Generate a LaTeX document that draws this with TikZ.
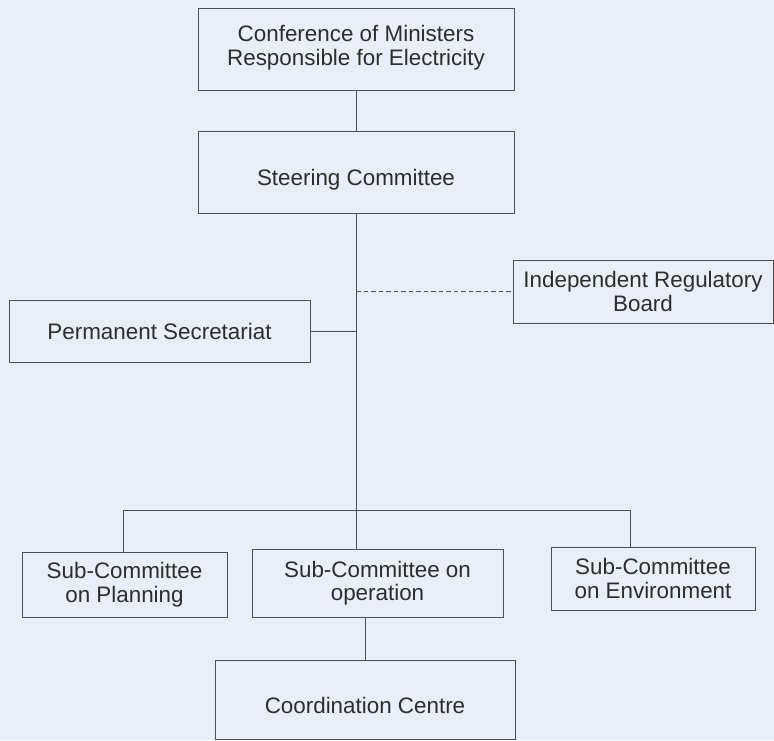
\documentclass[tikz,border=0pt]{standalone}
\usepackage{fontspec}
\setmainfont{Liberation Sans}
\definecolor{bgc}{RGB}{232,239,249}
\definecolor{linec}{RGB}{80,80,80}
\definecolor{txtc}{RGB}{45,45,45}
\newcommand\lowertext[1]{\raisebox{-8pt}[16pt][5pt]{#1}}
\begin{document}
\begin{tikzpicture}[x=1pt,y=-1pt,
  orgbox/.style={draw=linec, line width=0.9pt, rectangle, inner sep=0pt, align=center,
     text=txtc, font=\fontsize{22.4}{23.5}\selectfont},
  conn/.style={draw=linec, line width=0.9pt},
  dconn/.style={draw=linec, line width=0.9pt, dash pattern=on 4.5pt off 3pt}]
\fill[bgc] (0,0) rectangle (774,740);
\useasboundingbox (0,0) rectangle (774,740);

\node[orgbox, minimum width=316pt, minimum height=82pt] (conf) at (356,49)
  {Conference of Ministers\\Responsible for Electricity\\[-16pt]};
\node[orgbox, minimum width=316pt, minimum height=82pt] (steer) at (356,172)
  {\lowertext{Steering Committee}};
\node[orgbox, minimum width=260pt, minimum height=63pt] (irb) at (643,291.5)
  {Independent Regulatory\\Board};
\node[orgbox, minimum width=301pt, minimum height=62pt] (perm) at (159.5,331)
  {Permanent Secretariat};
\node[orgbox, minimum width=205pt, minimum height=65pt] (plan) at (124.5,584.5)
  {Sub-Committee\\on Planning};
\node[orgbox, minimum width=251pt, minimum height=68pt] (oper) at (377.5,583)
  {Sub-Committee on\\operation};
\node[orgbox, minimum width=204pt, minimum height=63pt] (env) at (653,578.5)
  {Sub-Committee\\on Environment};
\node[orgbox, minimum width=300pt, minimum height=79pt] (coord) at (365,699.5)
  {\lowertext{Coordination Centre}};

\coordinate (br) at (356,510);
\coordinate (brl) at (123,510);
\coordinate (brr) at (630,510);

\draw[conn] (conf.south) -- (steer.north);
\draw[conn] (steer.south) -- (steer.south |- oper.north);
\draw[conn] (perm.east) -- (perm.east -| steer.south);
\draw[dconn] (irb.west -| steer.south) -- (irb.west);
\draw[conn] (brl) -- (brr);
\draw[conn] (brl) -- (brl |- plan.north);
\draw[conn] (brr) -- (brr |- env.north);
\draw[conn] (coord.north |- oper.south) -- (coord.north);
\end{tikzpicture}
\end{document}
